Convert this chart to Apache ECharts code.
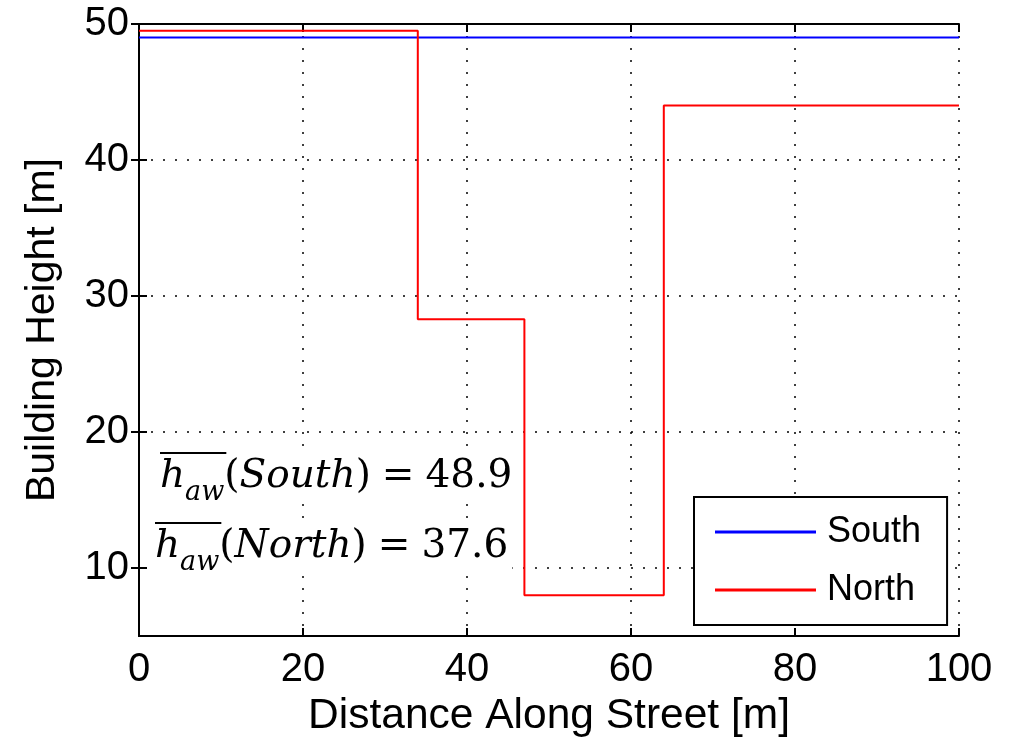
<!DOCTYPE html>
<html>
<head>
<meta charset="utf-8">
<script src="https://cdn.jsdelivr.net/npm/echarts@6/dist/echarts.min.js"></script>
<style>
html, body { margin: 0; padding: 0; background: #fff; }
#main { width: 1023px; height: 743px; }
</style>
</head>
<body>
<div id="main"></div>
<script>
// data
var southX = [0, 100];
var southH = [49, 49];
var northX = [0, 34, 47, 64, 100];
var northH = [49.5, 28.3, 8, 44, 44];
var yTicks = [10, 20, 30, 40, 50];
var yGrid = [10, 20, 30, 40];
var meanSouth = '48.9';
var meanNorth = '37.6';

function pairs(xs, ys) {
    var out = [];
    for (var i = 0; i < xs.length; i++) {
        out.push([xs[i], ys[i]]);
    }
    return out;
}

var sans = 'Liberation Sans, Arial, sans-serif';
var serif = 'DejaVu Serif, Liberation Serif, serif';
var gridDots = { color: '#000', width: 1.5, type: [2, 10] };

// width of the "h_aw" part, for the overline
var ctx = document.createElement('canvas').getContext('2d');
ctx.font = 'italic 39px ' + serif;
var wH = ctx.measureText('h').width;
ctx.font = 'italic 27px ' + serif;
var wSub = ctx.measureText('aw').width;
var barW = wH + wSub + 2;

var myChart = echarts.init(document.getElementById('main'));

var richMath = {
    it: { fontFamily: serif, fontStyle: 'italic', fontSize: 39, color: '#000' },
    sub: { fontFamily: serif, fontStyle: 'italic', fontSize: 27, color: '#000', verticalAlign: 'bottom', padding: [0, 0, -10, 0] },
    rm: { fontFamily: serif, fontSize: 39, color: '#000' },
    eq: { fontFamily: serif, fontSize: 39, color: '#000', padding: [0, 11, 0, 11] }
};

function mathLine(name, val) {
    return '{it|h}{sub|aw}{rm|(}{it|' + name + '}{rm|)}{eq|=}{rm|' + val + '}';
}

var option = {
    animation: false,
    backgroundColor: '#fff',
    grid: { left: 139, right: 64, top: 24, bottom: 106, containLabel: false },
    legend: {
        orient: 'vertical',
        left: 694,
        top: 497,
        padding: [17, 26, 17, 21],
        itemGap: 22,
        itemWidth: 101,
        itemHeight: 3,
        icon: 'rect',
        borderColor: '#000',
        borderWidth: 2,
        backgroundColor: '#fff',
        textStyle: { fontFamily: sans, fontSize: 36, color: '#000', padding: [0, 0, 0, 6] },
        data: ['South', 'North']
    },
    xAxis: [
        {
            type: 'value', min: 0, max: 100, interval: 20,
            name: 'Distance Along Street [m]', nameLocation: 'middle', nameGap: 57,
            nameTextStyle: { fontFamily: sans, fontSize: 42.5, color: '#000' },
            axisLine: { lineStyle: { color: '#000', width: 2 } },
            axisTick: { inside: true, length: 8, lineStyle: { color: '#000', width: 2 } },
            axisLabel: { fontFamily: sans, fontSize: 40, color: '#000', margin: 14 },
            splitLine: { show: true, lineStyle: gridDots }
        },
        {
            type: 'value', min: 0, max: 100, interval: 20, position: 'top',
            axisLine: { show: true, lineStyle: { color: '#000', width: 2 } },
            axisTick: { show: true, inside: true, length: 8, lineStyle: { color: '#000', width: 2 } },
            axisLabel: { show: false },
            splitLine: { show: false }
        }
    ],
    yAxis: [
        {
            type: 'value', min: 5, max: 50,
            name: 'Building Height [m]', nameLocation: 'middle', nameGap: 76,
            nameTextStyle: { fontFamily: sans, fontSize: 41, color: '#000' },
            axisLine: { show: true, lineStyle: { color: '#000', width: 2 } },
            axisTick: { show: true, inside: true, length: 8, customValues: yTicks, lineStyle: { color: '#000', width: 2 } },
            axisLabel: { fontFamily: sans, fontSize: 40, color: '#000', margin: 10, customValues: yTicks },
            splitLine: { show: false }
        },
        {
            type: 'value', min: 5, max: 50, position: 'right',
            axisLine: { show: true, lineStyle: { color: '#000', width: 2 } },
            axisTick: { show: true, inside: true, length: 8, customValues: yTicks, lineStyle: { color: '#000', width: 2 } },
            axisLabel: { show: false },
            splitLine: { show: false }
        }
    ],
    series: [
        {
            name: 'South',
            type: 'line',
            data: pairs(southX, southH),
            showSymbol: false,
            lineStyle: { color: '#0000ff', width: 2 },
            itemStyle: { color: '#0000ff' },
            z: 3,
            markLine: {
                silent: true,
                symbol: 'none',
                label: { show: false },
                lineStyle: gridDots,
                data: yGrid.map(function (v) { return { yAxis: v }; }),
                z: 1
            }
        },
        {
            name: 'North',
            type: 'line',
            step: 'end',
            data: pairs(northX, northH),
            showSymbol: false,
            lineStyle: { color: '#ff0000', width: 2 },
            itemStyle: { color: '#ff0000' },
            z: 4
        }
    ],
    graphic: [
        {
            type: 'text', left: 156, top: 453, z: 10,
            style: {
                text: mathLine('South', meanSouth),
                rich: richMath,
                backgroundColor: '#fff',
                padding: [4, 4, 4, 4]
            }
        },
        {
            type: 'line', z: 11,
            shape: { x1: 160, y1: 453, x2: 160 + barW, y2: 453 },
            style: { stroke: '#000', lineWidth: 2 }
        },
        {
            type: 'text', left: 151, top: 523, z: 10,
            style: {
                text: mathLine('North', meanNorth),
                rich: richMath,
                backgroundColor: '#fff',
                padding: [4, 4, 4, 4]
            }
        },
        {
            type: 'line', z: 11,
            shape: { x1: 155, y1: 523, x2: 155 + barW, y2: 523 },
            style: { stroke: '#000', lineWidth: 2 }
        }
    ]
};

if (option && typeof option === "object") {
    myChart.setOption(option, true);
}
</script>
</body>
</html>
